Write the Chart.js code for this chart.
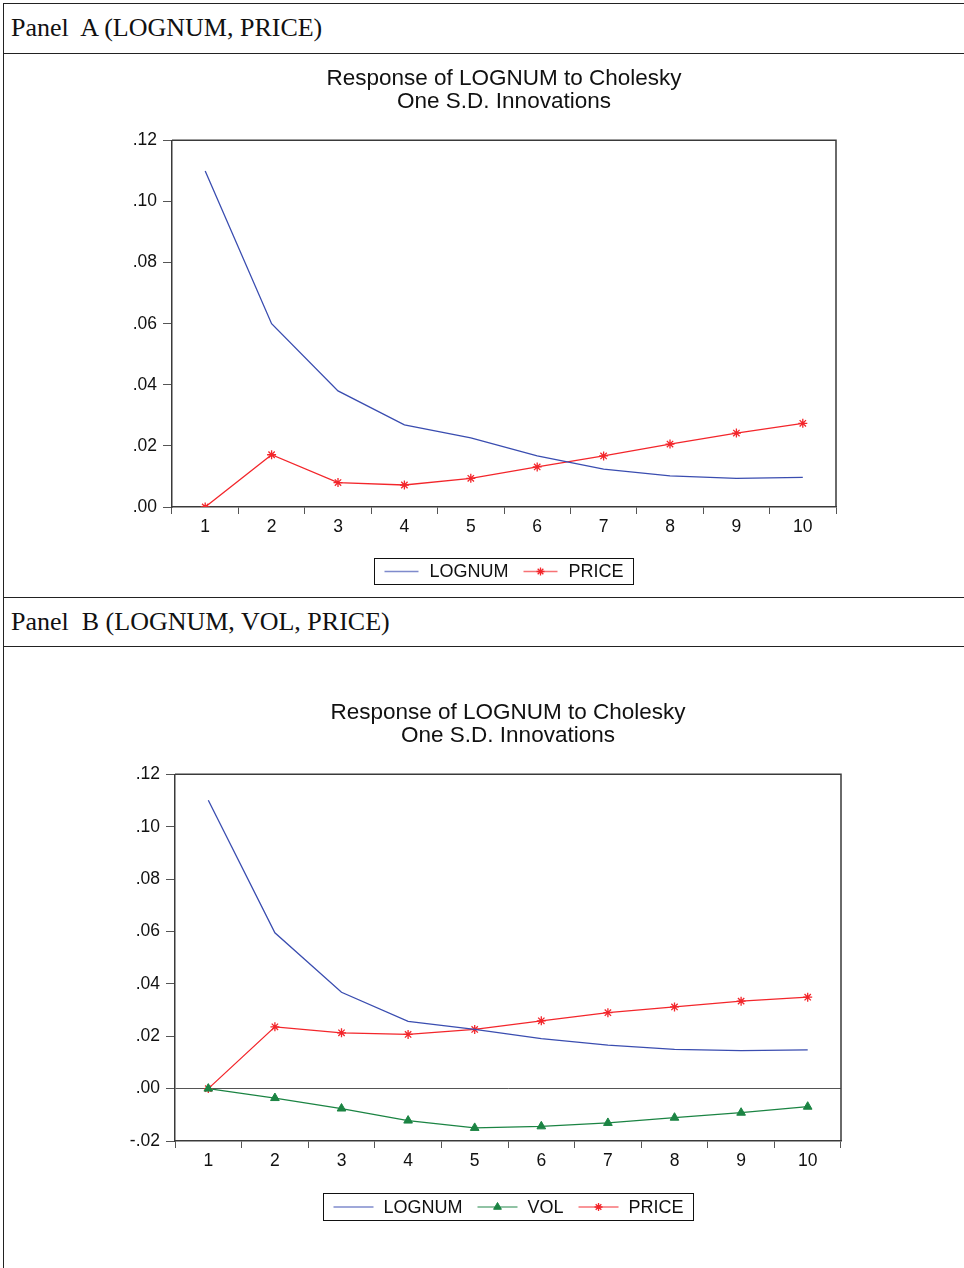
<!DOCTYPE html>
<html><head><meta charset="utf-8">
<script src="https://cdn.jsdelivr.net/npm/chart.js@4.4.1/dist/chart.umd.min.js"></script>
<style>
html,body{margin:0;padding:0;background:#fff;}
body{width:964px;height:1268px;position:relative;overflow:hidden;}
.hl{position:absolute;left:3px;right:0;height:0;border-top:1.5px solid #222;}
.vl{position:absolute;top:3px;bottom:0;left:3px;width:0;border-left:1.5px solid #222;}
.hdr{position:absolute;left:11px;height:48px;line-height:48px;font-family:'Liberation Serif','DejaVu Serif',serif;font-size:26px;color:#111;white-space:pre;}
.wrap{position:absolute;left:4px;width:960px;}
canvas{display:block;}
</style></head><body>
<div class="hl" style="top:3px"></div>
<div class="hl" style="top:53px"></div>
<div class="hl" style="top:597px"></div>
<div class="hl" style="top:646px"></div>
<div class="vl"></div>
<div class="hdr" style="top:4px">Panel  A (LOGNUM, PRICE)</div>
<div class="hdr" style="top:598px">Panel  B (LOGNUM, VOL, PRICE)</div>
<div class="wrap" style="top:54px;height:543px"><canvas id="cA" width="960" height="543"></canvas></div>
<div class="wrap" style="top:647px;height:621px"><canvas id="cB" width="960" height="621"></canvas></div>
<script>
// ---- data ----
const periods = ['1','2','3','4','5','6','7','8','9','10'];
const titleLines = ['Response of LOGNUM to Cholesky', 'One S.D. Innovations'];

const lognumA = [0.1100, 0.0600, 0.0380, 0.0269, 0.0226, 0.0167, 0.0124, 0.0102, 0.0094, 0.0097];
const priceA  = [0.0000, 0.0171, 0.0080, 0.0072, 0.0094, 0.0131, 0.0167, 0.0206, 0.0242, 0.0274];

const lognumB = [0.1101, 0.0595, 0.0368, 0.0257, 0.0226, 0.0191, 0.0166, 0.0150, 0.0145, 0.0148];
const volB    = [0.0000, -0.0036, -0.0076, -0.0122, -0.0150, -0.0144, -0.0131, -0.0111, -0.0092, -0.0069];
const priceB  = [0.0000, 0.0236, 0.0213, 0.0207, 0.0226, 0.0259, 0.0290, 0.0312, 0.0334, 0.0349];

const yRangeA = [0.00, 0.12];
const yRangeB = [-0.02, 0.12];
const yStep = 0.02;

// ---- styles ----
const BLUE = '#3a4db0', RED = '#f3262b', GREEN = '#1b8443';
const SANS = "'Liberation Sans', Arial, sans-serif";

function fmtTick(v){
  if (Math.abs(v) < 1e-9) v = 0;
  let s = Number(v).toFixed(2);
  return s.replace(/^(-?)0\./, '$1.');
}

function lognumDs(data){ return {label:'LOGNUM', data, borderColor:BLUE, backgroundColor:BLUE, borderWidth:1.3, pointRadius:0, pointHoverRadius:0, tension:0, legendStyle:false}; }
function priceDs(data){ return {label:'PRICE', data, borderColor:RED, backgroundColor:RED, borderWidth:1.3, pointStyle:'star', pointRadius:4.5, pointBorderWidth:1.3, tension:0, legendStyle:'star'}; }
function volDs(data){ return {label:'VOL', data, borderColor:GREEN, backgroundColor:GREEN, borderWidth:1.3, pointStyle:'triangle', pointRadius:5, pointBorderWidth:1, tension:0, legendStyle:'triangle'}; }

const framePlugin = {
  id:'frame',
  afterDatasetsDraw(chart){
    const a = chart.chartArea, c = chart.ctx;
    c.save(); c.strokeStyle = '#3a3a3a'; c.lineWidth = 1.5;
    c.beginPath();
    c.moveTo(a.left, a.top); c.lineTo(a.right, a.top); c.lineTo(a.right, a.bottom);
    c.stroke(); c.restore();
  }
};

const boxLegend = {
  id:'boxLegend',
  afterDraw(chart, args, opts){
    const c = chart.ctx, a = chart.chartArea;
    const fs = opts.fontSize, lineLen = opts.lineLen, gapT = opts.gapText, gapI = opts.gapItem, padX = opts.padX;
    c.save();
    c.font = fs + 'px ' + SANS;
    const items = chart.data.datasets.map(d => ({d, w: c.measureText(d.label).width}));
    let total = padX*2;
    items.forEach((it,i) => { total += lineLen + gapT + it.w + (i < items.length-1 ? gapI : 0); });
    const cx = (a.left + a.right)/2 + (opts.shift||0);
    let x = Math.round(cx - total/2) + 0.5;
    const top = opts.top + 0.5, h = opts.height;
    c.strokeStyle = '#111'; c.lineWidth = 1;
    c.strokeRect(x, top, Math.round(total), h);
    const my = top + h/2;
    x += padX;
    items.forEach((it, i) => {
      const d = it.d;
      c.save();
      c.globalAlpha = 0.65;
      c.strokeStyle = d.borderColor; c.lineWidth = 1.5;
      c.beginPath(); c.moveTo(x, my); c.lineTo(x+lineLen, my); c.stroke();
      c.restore();
      if (d.legendStyle){
        c.save();
        c.strokeStyle = d.borderColor; c.fillStyle = d.backgroundColor; c.lineWidth = d.pointBorderWidth;
        Chart.helpers.drawPoint(c, {pointStyle:d.legendStyle, radius: d.legendStyle==='triangle'?4.5:4, rotation:0, borderWidth:d.pointBorderWidth}, x+lineLen/2, my);
        c.restore();
      }
      x += lineLen + gapT;
      c.fillStyle = '#111'; c.textBaseline = 'middle'; c.textAlign = 'left';
      c.fillText(d.label, x, my + 1);
      x += it.w + gapI;
    });
    c.restore();
  }
};

function makeChart(id, datasets, yRange, cfg){
  return new Chart(document.getElementById(id), {
    type:'line',
    data:{ labels: periods, datasets },
    plugins:[framePlugin, boxLegend],
    options:{
      responsive:false, animation:false,
      layout:{ padding:{ left:cfg.padL, right:cfg.padR, top:0, bottom:cfg.padB } },
      plugins:{
        legend:{display:false}, tooltip:{enabled:false},
        title:{ display:true, text: titleLines, color:'#111',
          font:{family:SANS, size:22.5, weight:'normal', lineHeight:1.03},
          padding:{top:cfg.titleTop, bottom:cfg.titleBottom} },
        boxLegend: cfg.legend
      },
      scales:{
        x:{ type:'category', offset:true,
          grid:{ offset:true, drawOnChartArea:false, tickLength:7, tickColor:'#555', tickWidth:1 },
          border:{ color:'#3a3a3a', width:1.5 },
          ticks:{ font:{family:SANS, size:17.5}, color:'#111', padding:3, maxRotation:0, autoSkip:false },
          afterFit(s){ s.height = 40; }
        },
        y:{ position:'left', min:yRange[0], max:yRange[1],
          grid:{ drawOnChartArea: cfg.zeroLine, tickLength:9, tickColor:'#555',
                 color: ctx => (ctx.tick && Math.abs(ctx.tick.value) < 1e-9) ? '#555' : 'rgba(0,0,0,0)', lineWidth:1 },
          border:{ color:'#3a3a3a', width:1.5 },
          ticks:{ stepSize:yStep, callback: v => fmtTick(v), font:{family:SANS, size:17.5}, color:'#111', padding:6 },
          afterFit(s){ s.width = cfg.yW; }
        },
        y2:{ position:'right', display:true,
          grid:{display:false}, border:{display:false}, ticks:{display:false},
          afterFit(s){ s.width = cfg.yW; }
        }
      }
    }
  });
}

makeChart('cA', [lognumDs(lognumA), priceDs(priceA)], yRangeA, {
  padL:60, padR:20, yW:108, padB:50, titleTop:13, titleBottom:27, zeroLine:false,
  legend:{ top:504, height:26, fontSize:18, lineLen:34, gapText:11, gapItem:15, padX:10 }
});
makeChart('cB', [lognumDs(lognumB), volDs(volB), priceDs(priceB)], yRangeB, {
  padL:68, padR:20, yW:103, padB:87, titleTop:54, titleBottom:27, zeroLine:true,
  legend:{ top:546, height:27, fontSize:18, lineLen:40, gapText:10, gapItem:15, padX:10 }
});
</script>
</body></html>
